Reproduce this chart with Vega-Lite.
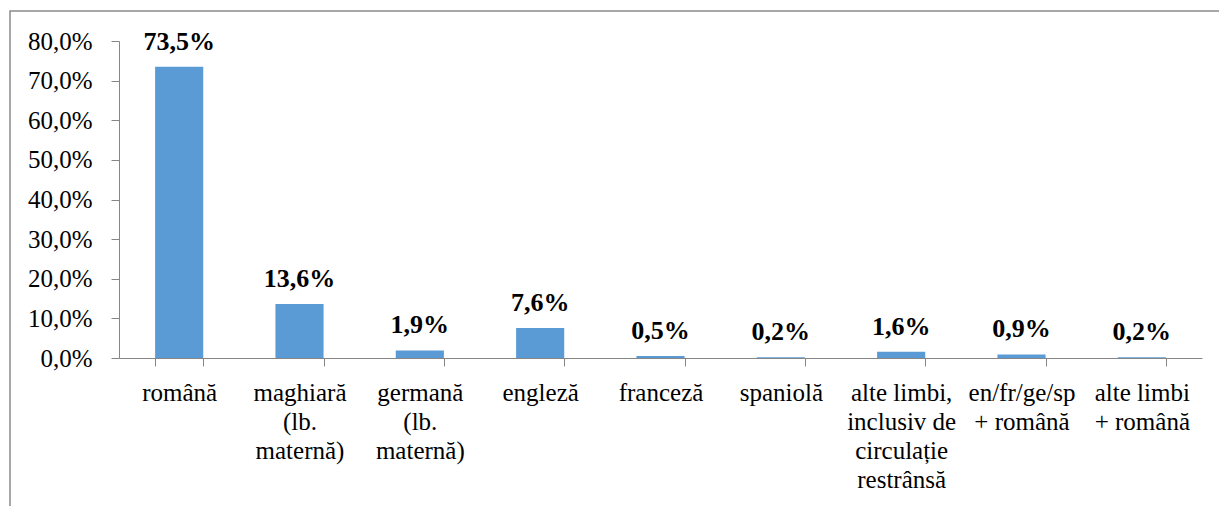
{
  "$schema": "https://vega.github.io/schema/vega-lite/v6.json",
  "width": 1212,
  "height": 500,
  "autosize": "none",
  "padding": {"left": 10, "top": 11, "right": 0, "bottom": 0},
  "background": "white",
  "config": {
    "view": {"stroke": "#8a8a8a", "strokeWidth": 1.5},
    "font": "Liberation Serif",
    "axis": {"labelFont": "Liberation Serif"},
    "text": {"font": "Liberation Serif"},
    "locale": {
      "number": {"decimal": ",", "thousands": ".", "grouping": [3], "currency": ["", " lei"]}
    }
  },
  "data": {
    "values": [
      {"limba": "română", "pct": 0.735},
      {"limba": "maghiară|(lb.|maternă)", "pct": 0.136},
      {"limba": "germană|(lb.|maternă)", "pct": 0.019},
      {"limba": "engleză", "pct": 0.076},
      {"limba": "franceză", "pct": 0.005},
      {"limba": "spaniolă", "pct": 0.002},
      {"limba": "alte limbi,|inclusiv de|circulație|restrânsă", "pct": 0.016},
      {"limba": "en/fr/ge/sp|+ română", "pct": 0.009},
      {"limba": "alte limbi|+ română", "pct": 0.002}
    ]
  },
  "encoding": {
    "x": {
      "field": "limba",
      "type": "nominal",
      "sort": null,
      "scale": {"range": [109, 1192], "paddingInner": 0.6, "paddingOuter": 0.3},
      "axis": {
        "title": null,
        "orient": "bottom",
        "offset": -153,
        "labelAngle": 0,
        "labelExpr": "split(datum.label, '|')",
        "labelFont": "Liberation Serif",
        "labelFontSize": 25,
        "labelColor": "#000000",
        "labelLineHeight": 29,
        "labelPadding": 14,
        "labelBaseline": "top",
        "tickBand": "extent",
        "tickSize": 8,
        "tickColor": "#868686",
        "domainColor": "#868686",
        "grid": false
      }
    }
  },
  "layer": [
    {
      "mark": {"type": "bar", "color": "#5b9bd5"},
      "encoding": {
        "y": {
          "field": "pct",
          "type": "quantitative",
          "scale": {"domain": [0, 0.8], "range": [347, 30], "nice": false},
          "axis": {
            "title": null,
            "offset": -109,
            "values": [0, 0.1, 0.2, 0.3, 0.4, 0.5, 0.6, 0.7, 0.8],
            "format": ".1%",
            "labelFont": "Liberation Serif",
            "labelFontSize": 25,
            "labelColor": "#000000",
            "labelPadding": 19,
            "tickSize": 8,
            "tickColor": "#868686",
            "domainColor": "#868686",
            "grid": false
          }
        }
      }
    },
    {
      "mark": {"type": "text", "font": "Liberation Serif", "fontSize": 26, "fontWeight": "bold", "color": "#000000", "baseline": "alphabetic", "dy": -17},
      "encoding": {
        "y": {"field": "pct", "type": "quantitative"},
        "text": {"field": "pct", "type": "quantitative", "format": ".1%"}
      }
    }
  ]
}
